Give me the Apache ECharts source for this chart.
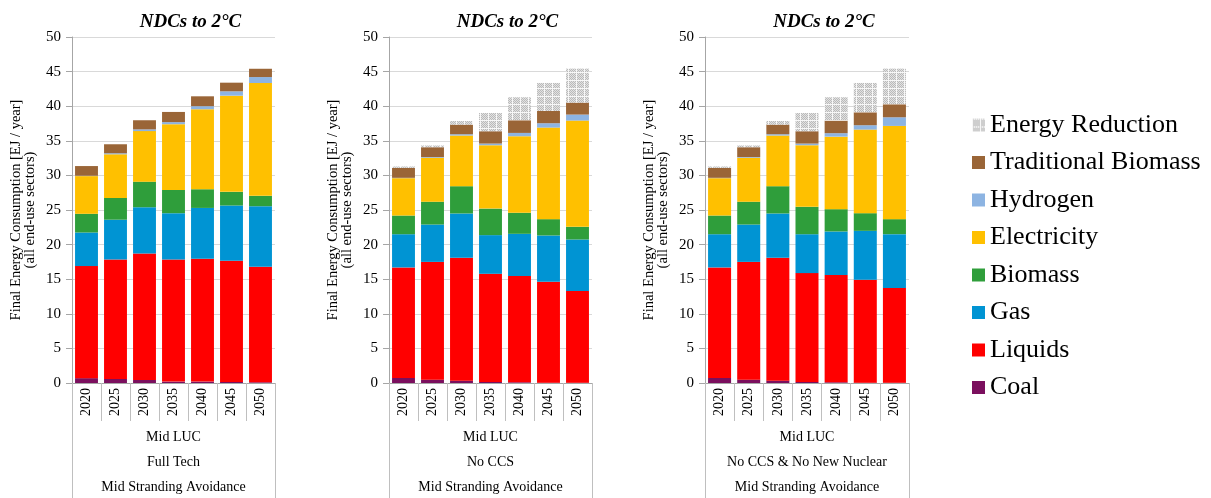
<!DOCTYPE html>
<html>
<head>
<meta charset="utf-8">
<script src="https://cdn.jsdelivr.net/npm/echarts@6/dist/echarts.min.js"></script>
<style>
  html, body { margin: 0; padding: 0; background: #fff; }
  #chart { width: 1211px; height: 498px; }
</style>
</head>
<body>
<div id="chart"></div>
<script>
// Final energy consumption by carrier, EJ / year, all end-use sectors
const years = ['2020', '2025', '2030', '2035', '2040', '2045', '2050'];
const yTicks = { min: 0, max: 50, step: 5 };
const panelTitle = 'NDCs to 2°C';
const scenarioLabels = [
  ['Mid LUC', 'Full Tech', 'Mid Stranding Avoidance'],
  ['Mid LUC', 'No CCS', 'Mid Stranding Avoidance'],
  ['Mid LUC', 'No CCS & No New Nuclear', 'Mid Stranding Avoidance']
];
const carrierNames = ['Coal', 'Liquids', 'Gas', 'Biomass', 'Electricity', 'Hydrogen', 'Traditional Biomass', 'Energy Reduction'];

// Full Tech
const coalFull        = [0.70, 0.58, 0.43, 0.20, 0.20, 0.15, 0.10];
const liquidsFull     = [16.20, 17.27, 18.29, 17.65, 17.75, 17.50, 16.70];
const gasFull         = [4.85, 5.75, 6.68, 6.69, 7.35, 8.00, 8.75];
const biomassFull     = [2.70, 3.15, 3.70, 3.36, 2.70, 1.97, 1.50];
const electricityFull = [5.45, 6.30, 7.30, 9.50, 11.56, 13.90, 16.30];
const hydrogenFull    = [0.05, 0.15, 0.25, 0.30, 0.44, 0.63, 0.86];
const tradBioFull     = [1.40, 1.30, 1.32, 1.47, 1.43, 1.25, 1.20];
const reductionFull   = [0, 0, 0, 0, 0, 0, 0];

// No CCS
const coalNoCCS        = [0.72, 0.48, 0.34, 0.15, 0.10, 0.05, 0.05];
const liquidsNoCCS     = [15.98, 17.02, 17.76, 15.63, 15.35, 14.58, 13.23];
const gasNoCCS         = [4.80, 5.40, 6.40, 5.59, 6.11, 6.69, 7.46];
const biomassNoCCS     = [2.70, 3.30, 3.94, 3.83, 3.04, 2.36, 1.83];
const electricityNoCCS = [5.40, 6.35, 7.32, 9.16, 11.06, 13.23, 15.35];
const hydrogenNoCCS    = [0.05, 0.10, 0.19, 0.24, 0.48, 0.63, 0.87];
const tradBioNoCCS     = [1.44, 1.42, 1.39, 1.78, 1.83, 1.78, 1.73];
const reductionNoCCS   = [0.20, 0.25, 0.53, 2.65, 3.32, 4.04, 4.91];

// No CCS & No New Nuclear
const coalNoNuc        = [0.72, 0.48, 0.34, 0.15, 0.10, 0.05, 0.05];
const liquidsNoNuc     = [15.98, 17.02, 17.76, 15.73, 15.49, 14.87, 13.67];
const gasNoNuc         = [4.80, 5.40, 6.40, 5.62, 6.31, 7.07, 7.79];
const biomassNoNuc     = [2.70, 3.30, 3.94, 3.96, 3.22, 2.55, 2.17];
const electricityNoNuc = [5.40, 6.35, 7.32, 8.90, 10.48, 12.08, 13.47];
const hydrogenNoNuc    = [0.05, 0.10, 0.19, 0.24, 0.50, 0.63, 1.25];
const tradBioNoNuc     = [1.44, 1.42, 1.39, 1.78, 1.82, 1.87, 1.88];
const reductionNoNuc   = [0.20, 0.25, 0.53, 2.65, 3.37, 4.24, 5.15];

const panels = [
  [coalFull, liquidsFull, gasFull, biomassFull, electricityFull, hydrogenFull, tradBioFull, reductionFull],
  [coalNoCCS, liquidsNoCCS, gasNoCCS, biomassNoCCS, electricityNoCCS, hydrogenNoCCS, tradBioNoCCS, reductionNoCCS],
  [coalNoNuc, liquidsNoNuc, gasNoNuc, biomassNoNuc, electricityNoNuc, hydrogenNoNuc, tradBioNoNuc, reductionNoNuc]
];

// dotted fill for the avoided-demand segment: dot clusters separated by pale lines
function dotPattern() {
  const c = document.createElement('canvas');
  c.width = 8; c.height = 8;
  const g = c.getContext('2d');
  g.fillStyle = '#f7f7f7';
  g.fillRect(0, 0, 8, 8);
  for (let y = 1; y < 8; y++) {
    for (let x = 1; x < 8; x++) {
      if ((x + y) % 2 === 0) {
        g.fillStyle = '#bababa';
        g.fillRect(x, y, 1, 1);
      } else {
        g.fillStyle = '#e2e2e2';
        g.fillRect(x, y, 1, 1);
      }
    }
  }
  return c;
}

const colors = ['#7b0f5e', '#ff0000', '#0094d3', '#2f9e3b', '#ffc000', '#8db4e2', '#9a6537',
  { image: dotPattern(), repeat: 'repeat' }];

const serif = 'Liberation Serif';
const grids = [
  { left: 72, width: 203, top: 37, height: 346, outerBoundsMode: 'none' },
  { left: 389, width: 203, top: 37, height: 346, outerBoundsMode: 'none' },
  { left: 705, width: 204, top: 37, height: 346, outerBoundsMode: 'none' }
];

const xAxes = [], yAxes = [], series = [], titles = [];
grids.forEach((g, p) => {
  titles.push({
    text: panelTitle,
    left: g.left + g.width / 2 + 12,
    top: 8,
    textAlign: 'center',
    textStyle: { fontFamily: serif, fontSize: 19, fontWeight: 'bold', fontStyle: 'italic', color: '#000' }
  });
  // year axis
  xAxes.push({
    type: 'category', gridIndex: p, position: 'bottom', data: years,
    axisLine: { lineStyle: { color: '#a6a6a6', width: 1 } },
    axisTick: { show: true, interval: 0, length: 38, lineStyle: { color: '#bfbfbf' } },
    axisLabel: { rotate: 90, margin: 5, interval: 0, fontFamily: serif, fontSize: 14, color: '#000' }
  });
  // scenario description beneath the years
  xAxes.push({
    type: 'category', gridIndex: p, position: 'bottom', data: [scenarioLabels[p].join('\n')],
    axisLine: { show: false },
    axisTick: { show: true, interval: 0, length: 116, lineStyle: { color: '#bfbfbf' } },
    axisLabel: { margin: 42, lineHeight: 25, fontFamily: serif, fontSize: 14, color: '#000' }
  });
  yAxes.push({
    type: 'value', gridIndex: p, min: yTicks.min, max: yTicks.max, interval: yTicks.step,
    name: 'Final Energy Consumption [EJ / year]\n(all end-use sectors)',
    nameLocation: 'middle', nameRotate: 90, nameGap: 35,
    nameTextStyle: { fontFamily: serif, fontSize: 14.5, color: '#000', lineHeight: 14 },
    axisLine: { show: true, lineStyle: { color: '#a6a6a6' } },
    axisTick: { show: true, length: 6, lineStyle: { color: '#a6a6a6' } },
    axisLabel: { margin: 11, fontFamily: serif, fontSize: 15, color: '#000' },
    splitLine: { lineStyle: { color: '#d9d9d9' } }
  });
  carrierNames.forEach((name, i) => {
    series.push({
      name, type: 'bar', stack: 'total' + p,
      xAxisIndex: p * 2, yAxisIndex: p,
      barCategoryGap: '21%',
      data: panels[p][i],
      itemStyle: { color: colors[i] },
      emphasis: { disabled: true }
    });
  });
});

const chart = echarts.init(document.getElementById('chart'), null, { renderer: 'canvas' });
chart.setOption({
  animation: false,
  title: titles,
  grid: grids,
  xAxis: xAxes,
  yAxis: yAxes,
  series,
  legend: {
    orient: 'vertical',
    left: 967, top: 107,
    itemWidth: 13, itemHeight: 13, itemGap: 11.5,
    icon: 'rect',
    data: carrierNames.slice().reverse(),
    textStyle: { fontFamily: serif, fontSize: 26, lineHeight: 26, color: '#000' }
  }
});
</script>
</body>
</html>
